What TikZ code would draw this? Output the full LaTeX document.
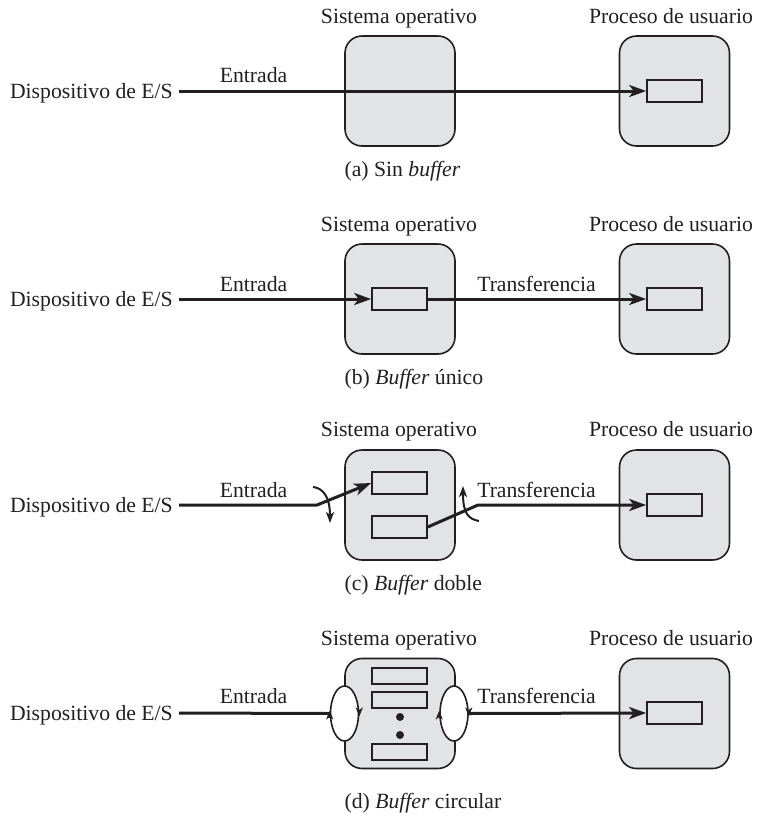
\documentclass[tikz,border=0pt]{standalone}
\usepackage{fontspec}
\setmainfont{Liberation Serif}
\usetikzlibrary{arrows.meta,shapes.geometric}
\definecolor{ink}{RGB}{35,31,32}
\definecolor{panelgray}{RGB}{226,227,229}
\begin{document}
\begin{tikzpicture}[x=1pt,y=-1pt,
  every node/.style={font=\fontsize{21.7}{26}\selectfont, text=ink},
  region/.style={draw=ink, line width=1.6pt, fill=panelgray, rounded corners=17pt,
    minimum width=110pt, minimum height=110pt, inner sep=0pt},
  buf/.style={draw=ink, line width=1.6pt, fill=panelgray, minimum width=55pt,
    minimum height=22pt, inner sep=0pt},
  smallbuf/.style={buf, minimum height=16pt},
  devlabel/.style={anchor=east, text height=14pt, text depth=0pt, inner xsep=6pt, inner ysep=0pt},
  title/.style={anchor=base},
  caption/.style={anchor=base west},
  wire/.style={draw=ink, line width=3pt},
  flow/.style={wire, -{Stealth[length=17pt,width=12pt,inset=4.5pt]}},
  switcharrow/.style={draw=ink, line width=2pt, -{Stealth[length=11pt,width=8pt,inset=3pt]}},
  tick/.style={draw=ink, line width=1.4pt, -{Stealth[length=9pt,width=7pt,inset=2.5pt]}},
  loop/.style={ellipse, draw=ink, line width=1.6pt, fill=white, minimum width=28pt,
    minimum height=55pt, inner sep=0pt},
  dot/.style={circle, fill=ink, minimum size=8pt, inner sep=0pt}
]
\useasboundingbox (0,0) rectangle (757,823);

% ---------- (a) Sin buffer ----------
\node[region] (osA) at (400,91) {};
\node[region] (upA) at (674.5,91) {};
\node[buf] (ubA) at (674.5,91) {};
\node[title] (osAt) at (399,23) {Sistema operativo};
\node[title] (upAt) at (671,23) {Proceso de usuario};
\node[devlabel] (devA) at (179,91) {Dispositivo de E/S};
\node[title] (inA) at (253.5,82) {Entrada};
\draw[flow] (devA.east) -- (ubA.west);
\node[caption] (capA) at (341,176) {(a) Sin \textit{buffer}};

% ---------- (b) Buffer único ----------
\node[region] (osB) at (400,299) {};
\node[region] (upB) at (674.5,299) {};
\node[buf] (obB) at (399.5,299) {};
\node[buf] (ubB) at (674.5,299) {};
\node[title] (osBt) at (399,231) {Sistema operativo};
\node[title] (upBt) at (671,231) {Proceso de usuario};
\node[devlabel] (devB) at (179,299) {Dispositivo de E/S};
\node[title] (inB) at (253.5,291) {Entrada};
\node[title] (trB) at (536.5,291) {Transferencia};
\draw[flow] (devB.east) -- (obB.west);
\draw[flow] (obB.east) -- (ubB.west);
\node[caption] (capB) at (341,384) {(b) \textit{Buffer} único};

% ---------- (c) Buffer doble ----------
\node[region] (osC) at (400,505) {};
\node[region] (upC) at (674.5,505) {};
\node[buf] (obC1) at (399.5,483) {};
\node[buf] (obC2) at (399.5,527) {};
\node[buf] (ubC) at (674.5,505) {};
\node[title] (osCt) at (399,436) {Sistema operativo};
\node[title] (upCt) at (671,436) {Proceso de usuario};
\node[devlabel] (devC) at (179,505) {Dispositivo de E/S};
\node[title] (inC) at (253.5,497) {Entrada};
\node[title] (trC) at (536.5,497) {Transferencia};
\coordinate (inBend) at (317,505);
\coordinate (outBend) at (478,505);
\draw[flow, line join=round] (devC.east) -- (inBend) -- (obC1.west);
\draw[flow, line join=round] (obC2.east) -- (outBend) -- (ubC.west);
% switch arrows at the two bends
\coordinate (swInA) at (313,487);
\coordinate (swInB) at (330,523);
\coordinate (swOutA) at (479,521);
\coordinate (swOutB) at (463,486);
\draw[switcharrow] (swInA) .. controls (323,488) and (330,497) .. (swInB);
\draw[switcharrow] (swOutA) .. controls (468,519) and (463,513) .. (swOutB);
\node[caption] (capC) at (341,590) {(c) \textit{Buffer} doble};

% ---------- (d) Buffer circular ----------
\node[region] (osD) at (400,713.5) {};
\node[region] (upD) at (674.5,713.5) {};
\node[smallbuf] (obD1) at (399.5,676) {};
\node[smallbuf] (obD2) at (399.5,700) {};
\node[dot] (dotD1) at (400,717) {};
\node[dot] (dotD2) at (400,735) {};
\node[smallbuf] (obD3) at (399.5,752) {};
\node[buf] (ubD) at (674.5,713) {};
\node[loop] (leD) at (344.5,713.5) {};
\node[loop] (reD) at (454,713.5) {};
\node[title] (osDt) at (399,645) {Sistema operativo};
\node[title] (upDt) at (671,645) {Proceso de usuario};
\node[devlabel] (devD) at (179,713) {Dispositivo de E/S};
\node[title] (inD) at (253.5,703) {Entrada};
\node[title] (trD) at (536.5,703) {Transferencia};
\draw[wire] (devD.east) -- (leD.west);
\draw[flow] (reD.east) -- (ubD.west);
% circulation marks on the two rings
\draw[tick] ([yshift=-4pt]leD.west) -- ([yshift=3pt]leD.west);
\draw[tick] ([yshift=4pt]leD.east) -- ([yshift=-3pt]leD.east);
\draw[tick] ([yshift=-4pt]reD.west) -- ([yshift=3pt]reD.west);
\draw[tick] ([yshift=4pt]reD.east) -- ([yshift=-3pt]reD.east);
\node[caption] (capD) at (341,808) {(d) \textit{Buffer} circular};
\end{tikzpicture}
\end{document}
